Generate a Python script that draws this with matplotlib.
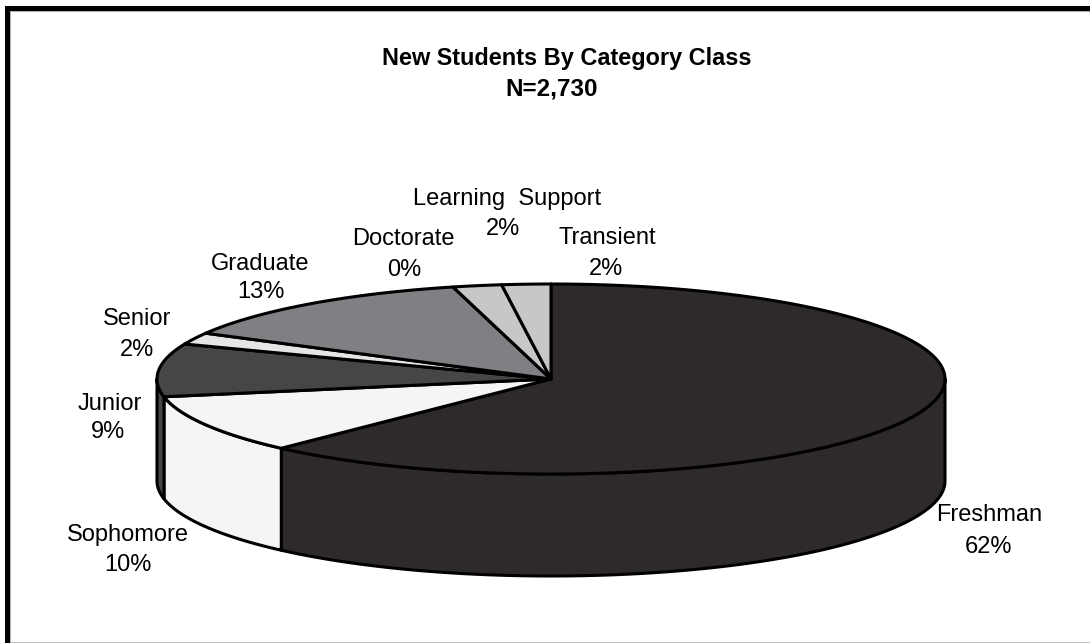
import numpy as np
import matplotlib.pyplot as plt
from matplotlib.patches import Polygon, Rectangle

plt.rcParams['font.family'] = ['Liberation Sans', 'DejaVu Sans']

categories = ['Freshman', 'Sophomore', 'Junior', 'Senior', 'Graduate',
              'Doctorate', 'Learning  Support', 'Transient']
percents = [62, 10, 9, 2, 13, 0, 2, 2]
colors = ['#2e2a2b', '#f5f5f5', '#464547', '#e4e5e6', '#7f8083',
          '#7f8083', '#c6c7c9', '#c6c7c9']
title_lines = ['New Students By Category Class', 'N=2,730']

# label anchor points in pixels, name line and percent line
name_x = [989, 128, 110, 137, 260, 403, 507, 607]
name_y = [515, 535, 404, 319, 264, 239, 199, 238]
pct_x = [988, 128, 108, 137, 261, 404, 503, 606]
pct_y = [547, 565, 432, 350, 292, 270, 229, 269]

W, H = 1090, 643
cx, cy = 551, 379
rx, ry = 394, 95
depth = 102
lw = 2.2


def rim(a0, a1):
    # angles in degrees clockwise from 12 o'clock
    t = np.radians(np.linspace(a0, a1, max(int(abs(a1 - a0) * 3), 2)))
    return cx + rx * np.sin(t), cy - ry * np.cos(t)


def main():
    fig = plt.figure(figsize=(W / 100, H / 100), dpi=100)
    ax = fig.add_axes([0, 0, 1, 1])
    ax.set_xlim(0, W)
    ax.set_ylim(H, 0)
    ax.axis('off')

    # frame of the original picture
    ax.add_patch(Rectangle((5, 6), W, 5, color='black', lw=0))
    ax.add_patch(Rectangle((5, 6), 5, H, color='black', lw=0))
    ax.add_patch(Rectangle((10, 11), W, 1, color='#b0b0b0', lw=0))
    ax.add_patch(Rectangle((10, 11), 1, H, color='#b0b0b0', lw=0))
    ax.add_patch(Rectangle((11, 642), W, 1, color='#c0c0c0', lw=0))

    edges = np.concatenate([[0], np.cumsum(percents)]) * 3.6

    # side wall, only the part of each slice facing the viewer
    for i, color in enumerate(colors):
        a0, a1 = max(edges[i], 90), min(edges[i + 1], 270)
        if a1 <= a0:
            continue
        x, y = rim(a0, a1)
        pts = np.r_[np.c_[x, y], np.c_[x[::-1], y[::-1] + depth]]
        ax.add_patch(Polygon(pts, closed=True, fc=color, ec='black', lw=lw,
                             joinstyle='round', zorder=2))

    # top face
    for i, color in enumerate(colors):
        x, y = rim(edges[i], edges[i + 1])
        pts = np.r_[[[cx, cy]], np.c_[x, y]]
        ax.add_patch(Polygon(pts, closed=True, fc=color, ec='black', lw=lw,
                             joinstyle='round', zorder=3))

    for i, name in enumerate(categories):
        ax.text(name_x[i], name_y[i], name, ha='center', va='center',
                fontsize=17, color='black', zorder=5)
        ax.text(pct_x[i], pct_y[i], f'{percents[i]}%', ha='center', va='center',
                fontsize=17, color='black', zorder=5)

    ax.text(567, 59, title_lines[0], ha='center', va='center',
            fontsize=16.9, fontweight='bold')
    ax.text(552, 89, title_lines[1], ha='center', va='center',
            fontsize=17.5, fontweight='bold')

    fig.savefig('out.png', dpi=100)


if __name__ == '__main__':
    main()
